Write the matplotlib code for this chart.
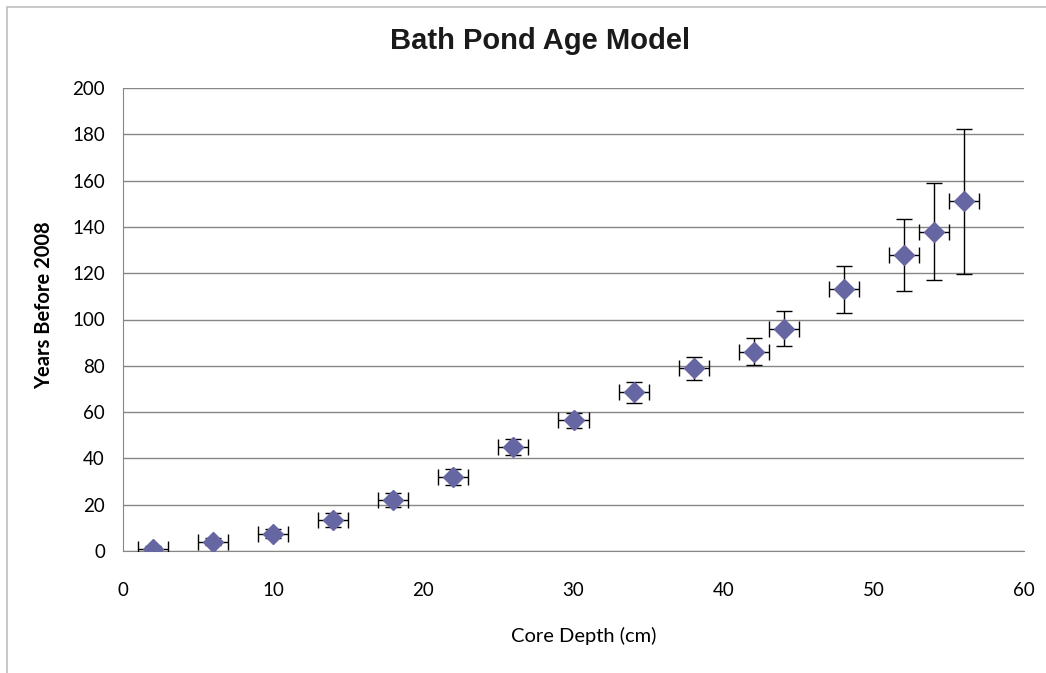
import matplotlib
matplotlib.use('Agg')
from matplotlib import pyplot as plt
from matplotlib.patches import Rectangle

# core depth (cm) and age (years before 2008)
depth = [2, 6, 10, 14, 18, 22, 26, 30, 34, 38, 42, 44, 48, 52, 54, 56]
age = [1, 4, 7.5, 13.5, 22, 32, 45, 56.5, 68.5, 79, 86, 96, 113, 128, 138, 151]
age_err = [1, 1.5, 2, 3, 3, 3.5, 3.5, 3.3, 4.5, 5, 5.8, 7.5, 10, 15.5, 21, 31.5]
depth_err = [1] * len(depth)

xticks = [0, 10, 20, 30, 40, 50, 60]
yticks = [0, 20, 40, 60, 80, 100, 120, 140, 160, 180, 200]

plt.rcParams['font.family'] = ['Lato', 'DejaVu Sans']

W, H = 1046, 673
fig = plt.figure(figsize=(W/100, H/100), dpi=100)
fig.patches.append(Rectangle((7/W, -0.1), 1.2, 1.1 - 7/H, transform=fig.transFigure,
                             fill=False, edgecolor='#bfbfbf', linewidth=1.2))
ax = fig.add_axes([123/W, 122/H, 901/W, 463/H])

ax.errorbar(depth, age, yerr=age_err, xerr=depth_err, fmt='D', color='#6666a3',
            markersize=10, ecolor='black', elinewidth=1, capsize=5.5, capthick=1,
            zorder=3)

ax.set_xlim(0, 60)
ax.set_ylim(0, 200)
ax.set_xticks(xticks)
ax.set_yticks(yticks)
ax.yaxis.grid(True, color='#868686', linewidth=1)
ax.set_axisbelow(True)
for s in ['top', 'right']:
    ax.spines[s].set_visible(False)
for s in ['left', 'bottom']:
    ax.spines[s].set_color('#868686')
ax.tick_params(axis='both', labelcolor='black', labelsize=13.5, length=0)
ax.tick_params(axis='x', pad=22)
ax.tick_params(axis='y', pad=13)

fig.text(540/W, 1 - 49/H, 'Bath Pond Age Model', fontsize=21, fontweight='bold',
         family='Liberation Sans', ha='center', va='baseline', color='#1a1a1a')
fig.text(584/W, 1 - 636/H, 'Core Depth (cm)', fontsize=14.5, ha='center', va='center')
fig.text(44/W, 1 - 305/H, 'Years Before 2008', fontsize=14.5, fontweight='bold',
         rotation=90, ha='center', va='center')

fig.savefig('out.png', dpi=100)
